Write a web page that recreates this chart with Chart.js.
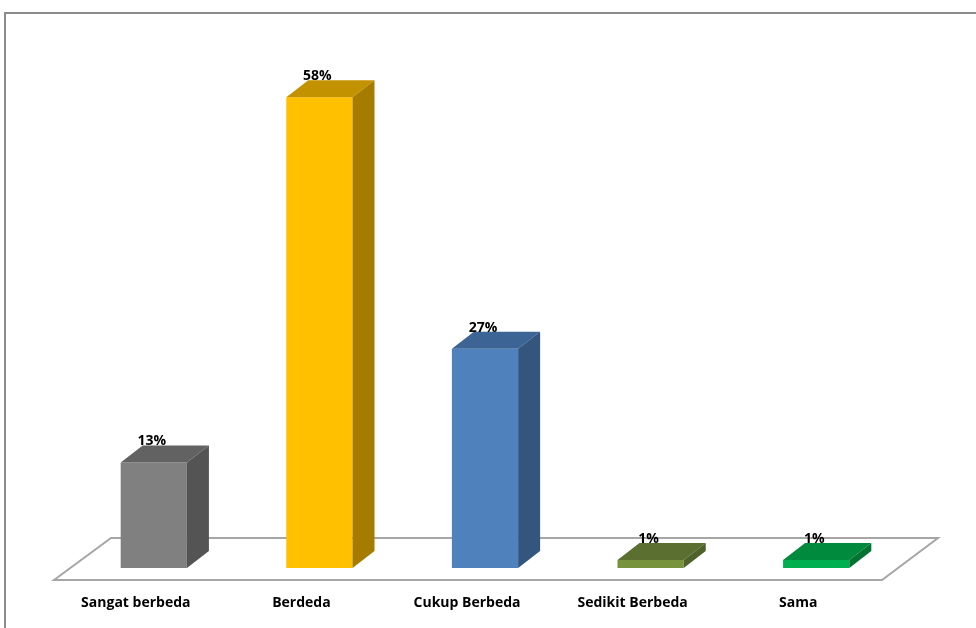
<!DOCTYPE html>
<html>
<head>
<meta charset="utf-8">
<title>Perbedaan</title>
<script src="https://cdn.jsdelivr.net/npm/chart.js@4"></script>
<style>
  html, body { margin: 0; padding: 0; background: #fff; }
  #wrap { width: 976px; height: 628px; }
</style>
</head>
<body>
<div id="wrap"><canvas id="chart" width="976" height="628"></canvas></div>
<script>
// ── Data ──────────────────────────────────────────────────────────────────
const categories = ['Sangat berbeda', 'Berdeda', 'Cukup Berbeda', 'Sedikit Berbeda', 'Sama'];
const values     = [13, 58, 27, 1, 1];

// ── Colours (front / top / side faces) ────────────────────────────────────
const FRONT = ['#808080', '#ffc000', '#4f81bd', '#77933c', '#00b050'];
const TOP   = ['#626262', '#c39200', '#3c6494', '#5b7030', '#008a3e'];
const SIDE  = ['#545454', '#a67c00', '#34557d', '#4f6229', '#007232'];

const DEPTH_X = 22;
const DEPTH_Y = -17;
const FONT = "bold 14px 'Open Sans', Lato, sans-serif";

// outer frame + floor, behind the bars
const backdrop = {
  id: 'backdrop',
  beforeDatasetsDraw(chart) {
    const { ctx, chartArea: a } = chart;
    ctx.save();
    ctx.strokeStyle = '#8c8c8c';
    ctx.lineWidth = 2;
    ctx.strokeRect(5, 13, 1200, 800);

    const backY = a.bottom - 30, frontY = a.bottom + 12;
    ctx.beginPath();
    ctx.moveTo(a.left - 17, frontY);
    ctx.lineTo(a.left + 40, backY);
    ctx.lineTo(a.right + 39, backY);
    ctx.lineTo(a.right - 17, frontY);
    ctx.closePath();
    ctx.strokeStyle = '#a6a6a6';
    ctx.lineWidth = 2;
    ctx.stroke();
    ctx.restore();
  }
};

// top and side faces, value and category labels
const bars3d = {
  id: 'bars3d',
  afterDatasetsDraw(chart) {
    const { ctx } = chart;
    const meta = chart.getDatasetMeta(0);
    ctx.save();
    meta.data.forEach((bar, i) => {
      const { x, y, base, width } = bar.getProps(['x', 'y', 'base', 'width'], true);
      const l = x - width / 2, r = x + width / 2;

      ctx.fillStyle = TOP[i];
      ctx.beginPath();
      ctx.moveTo(l, y);
      ctx.lineTo(l + DEPTH_X, y + DEPTH_Y);
      ctx.lineTo(r + DEPTH_X, y + DEPTH_Y);
      ctx.lineTo(r, y);
      ctx.closePath();
      ctx.fill();

      ctx.fillStyle = SIDE[i];
      ctx.beginPath();
      ctx.moveTo(r, y);
      ctx.lineTo(r + DEPTH_X, y + DEPTH_Y);
      ctx.lineTo(r + DEPTH_X, base + DEPTH_Y);
      ctx.lineTo(r, base);
      ctx.closePath();
      ctx.fill();

      ctx.fillStyle = '#000';
      ctx.font = FONT;
      ctx.textAlign = 'center';
      ctx.textBaseline = 'bottom';
      ctx.fillText(values[i] + '%', x - 2, y + DEPTH_Y + 3);

      ctx.textBaseline = 'middle';
      ctx.fillText(categories[i], x - 18, 603);
    });
    ctx.restore();
  }
};

new Chart(document.getElementById('chart'), {
  type: 'bar',
  data: {
    labels: categories,
    datasets: [{
      data: values,
      backgroundColor: FRONT,
      borderWidth: 0,
      barPercentage: 0.4,
      categoryPercentage: 1
    }]
  },
  options: {
    responsive: false,
    animation: false,
    layout: { padding: { left: 71, right: 77, top: 81, bottom: 60 } },
    plugins: { legend: { display: false }, tooltip: { enabled: false } },
    scales: {
      x: { display: false },
      y: { display: false, min: 0, max: 60 }
    }
  },
  plugins: [backdrop, bars3d]
});
</script>
</body>
</html>
